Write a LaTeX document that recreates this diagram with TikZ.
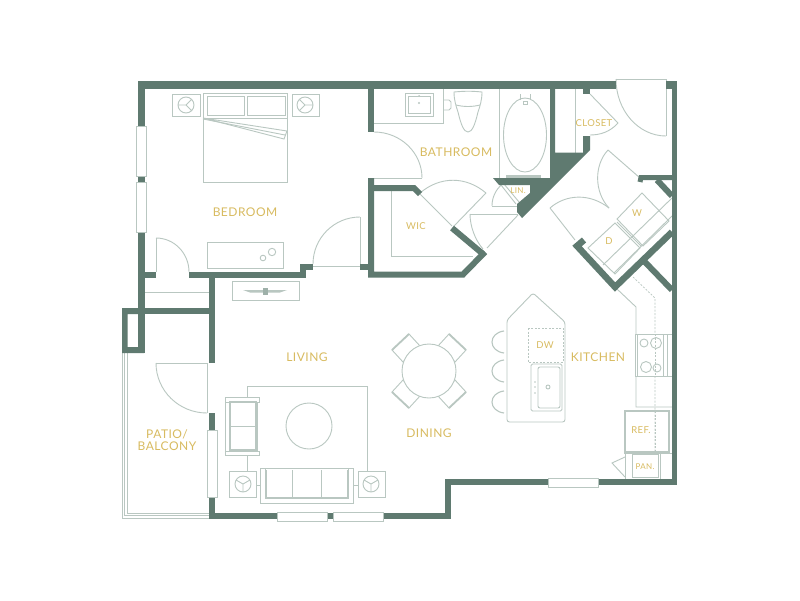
\documentclass[tikz,border=0pt]{standalone}
\usepackage{fontspec}
\setmainfont{Lato}
\newfontfamily\labfont[LetterSpace=4]{Lato}
\usetikzlibrary{calc}
\definecolor{wallc}{HTML}{5F7A70}
\definecolor{thinc}{HTML}{B9C7C1}
\definecolor{goldc}{HTML}{D8BB60}
\tikzset{
 wall/.style={draw=wallc,line width=6pt,miter limit=10,line join=miter},
 wallfill/.style={fill=wallc,draw=none},
 thin line/.style={draw=thinc,line width=0.9pt},
 furn/.style={draw=thinc,line width=0.9pt,fill=white},
 win/.style={draw=thinc,line width=0.9pt,fill=white},
 dash line/.style={draw=thinc,line width=0.7pt,dash pattern=on 2pt off 1.5pt},
 lab/.style={text=goldc,font=\labfont\fontsize{12}{14}\selectfont,inner sep=0pt,align=center},
 labs/.style={text=goldc,font=\labfont\fontsize{9.5}{11}\selectfont,inner sep=0pt},
 labt/.style={text=goldc,font=\labfont\fontsize{8}{10}\selectfont,inner sep=0pt}
}
% quarter swing: centre, start, end
\newcommand{\swing}[6]{\draw[thin line] (#3,#4) .. controls ($(#3,#4)+0.5523*(#5,#6)-0.5523*(#1,#2)$) and ($(#5,#6)+0.5523*(#3,#4)-0.5523*(#1,#2)$) .. (#5,#6);}
\begin{document}
\begin{tikzpicture}[x=1pt,y=-1pt]
\useasboundingbox (0,0) rectangle (800,600);
\fill[white] (0,0) rectangle (800,600);

% ---- furniture & fixtures (thin)
% bedroom
\draw[furn] (172,94) rectangle (200,116);
\draw[furn] (292,94) rectangle (319,116);
\draw[thin line] (186,105) circle (8) (186,105) -- (178,105) (186,105) -- (192,99) (186,105) -- (192,111);
\draw[thin line] (305,105) circle (8) (305,105) -- (313,105) (305,105) -- (299,99) (305,105) -- (299,111);
\draw[furn] (203,93) rectangle (287,182);
\draw[thin line] (203,118) -- (287,118);
\draw[thin line] (207,96) rectangle (244,115) (247,96) rectangle (285,115);
\draw[furn] (203,118) -- (287,131) -- (284,139) -- cycle;
\draw[thin line] (203,119) -- (285,135);
\draw[furn] (207,242) rectangle (283,268);
\draw[thin line] (272,252) circle (3.7) (263,258) circle (2.8);
% closet below bedroom
\draw[thin line] (144,292) -- (209,292);
% bedroom doors
\draw[thin line] (156,238) -- (156,272);
\swing{156}{272}{156}{238}{189}{272}
\draw[thin line] (360,217) -- (360,266) -- (313,266);
\swing{360}{264}{360}{217}{313}{264}

% bathroom
\draw[thin line] (374,123) -- (443,123) -- (443,89);
\draw[thin line] (405,93) rectangle (433,116) (408,96) rectangle (430,113);
\fill[thinc] (419,96) circle (1) (419,103) circle (1.2);
\draw[thin line] (443,100) -- (449,100) -- (451,102) -- (451,108) -- (449,110) -- (443,110);
\draw[furn] (454,92) .. controls (465,91) and (472,91) .. (482,92)
  .. controls (482,100) and (480,106) .. (478,112) .. controls (475,125) and (472,132) .. (468,132)
  .. controls (464,132) and (461,125) .. (458,112) .. controls (456,106) and (454,100) .. (454,92) -- cycle;
\draw[thin line] (456,105) .. controls (464,107) and (472,107) .. (480,105);
\draw[thin line] (499,89) -- (499,178);
\draw[thin line] (525,135) ellipse (21.5 and 37);
\draw[thin line] (520,94) -- (520,100) (530,94) -- (530,100) (523,101) rectangle (527,104);
\fill[thinc] (506,175) rectangle (541,177.5);
\draw[thin line] (575,89) -- (575,153);
% bath door
\draw[thin line] (374,178) -- (422,178);
\swing{374}{178}{374}{132}{422}{178}
% closet door
\draw[thin line] (590,94) -- (618,123);
\draw[thin line] (618,123) .. controls (610,132) and (600,135) .. (590,135);
% entry door
\draw[thin line] (616,79) -- (666,79) -- (666,136);
\swing{666}{79}{616}{79}{666}{136}
% WIC
\draw[thin line] (391,191) -- (391,256) -- (473,256);
\draw[thin line] (419,193) -- (452,226) (486,193) -- (454,226);
\draw[thin line] (420,193) .. controls (440,176) and (466,176) .. (486,193);
\draw[thin line] (470,214) -- (518,214);
\draw[thin line] (518,215) -- (487,248);
\draw[thin line] (470,214) .. controls (470,226) and (475,240) .. (483,249);
% linen
\draw[thin line] (492,206) -- (517,206);
\draw[thin line] (492,206) .. controls (492,197) and (496,190) .. (501,185);
\draw[thin line] (501,185) -- (516,204) (504,184) -- (519,202);

% laundry
\draw[thin line] (640,178) -- (608,150);
\draw[thin line] (608,150) .. controls (594,165) and (594,192) .. (609,208);
\draw[thin line] (609,208) .. controls (590,193) and (566,194) .. (550,208);
\draw[thin line] (550,208) -- (575,240);
\draw[thin line] (642,193) -- (669,221) -- (643,246) -- (617,219) -- cycle;
\draw[thin line] (615,223) -- (640,248) -- (615,274) -- (588,248) -- cycle;
\draw[thin line] (672,198) -- (603,265);
\draw[thin line] (672,216) -- (614,273);
\draw[thin line] (617,222) -- (641,246);

% kitchen
\draw[thin line] (617,289) -- (636,307) -- (636,407) -- (672,407);
\draw[dash line] (633,277) -- (655,298) -- (655,453);
\draw[furn] (635,334) rectangle (672,376);
\draw[thin line] (637,334) -- (637,376) (663,334) -- (663,376) (667,334) -- (667,376);
\draw[thin line] (644,343) circle (4) (656,343) circle (5.5) (646,367) circle (5.5) (657,368) circle (4);
\draw[dash line] (655,334) -- (655,376);
\draw[thin line] (624,410) rectangle (669,452);
\draw[thin line] (625,411) rectangle (668,451);
\draw[dash line] (655,411) -- (655,453);
\draw[thin line] (624,453) -- (672,453);
\draw[thin line] (625,453) -- (625,479) (632,454) rectangle (658,477) (660,454) -- (660,479);
\draw[thin line] (625,457) -- (612,463) -- (625,477);
% island
\draw[thin line,rounded corners=2.5pt] (507,320) -- (533,293) -- (565,322) -- (565,422) -- (507,422) -- cycle;
\draw[dash line] (528,328) rectangle (563,362);
\draw[thin line,rounded corners=1.5pt] (531,364) rectangle (562,411);
\draw[thin line,rounded corners=2pt] (538,367) rectangle (560,408);
\draw[thin line] (548,387) circle (2);
\fill[thinc] (535,382) circle (.9) (535,387) circle (.9) (535,393) circle (.9);
\draw[thin line,line width=1.1pt] (504,331) .. controls (488,333) and (488,351) .. (504,353);
\draw[thin line,line width=1.1pt] (504,360) .. controls (488,362) and (488,380) .. (504,382);
\draw[thin line,line width=1.1pt] (504,391) .. controls (488,393) and (488,411) .. (504,413);
% dining
\draw[thin line,fill=white] (392,350) -- (409,334) -- (420,346) -- (403,362) -- cycle;
\draw[thin line,fill=white] (466,350) -- (449,334) -- (438,346) -- (455,362) -- cycle;
\draw[thin line,fill=white] (392,392) -- (409,408) -- (420,396) -- (403,380) -- cycle;
\draw[thin line,fill=white] (466,392) -- (449,408) -- (438,396) -- (455,380) -- cycle;
\draw[thinc,line width=1.8pt] (392,350) -- (409,334) (466,350) -- (449,334) (392,392) -- (409,408) (466,392) -- (449,408);
\draw[thin line,fill=white] (429,371) circle (27);
% tv
\draw[furn] (232,281) rectangle (299,300);
\fill[thinc] (243,290) -- (287,290) -- (280,292.5) -- (250,292.5) -- cycle;
\fill[thinc!70!wallc] (262.5,287.5) rectangle (267.5,295);
% living
\draw[thin line] (247,397) -- (247,386) -- (367,386) -- (367,471);
\draw[thin line] (247,455) -- (247,471);
\draw[thin line] (309,426) circle (23);
\draw[furn] (225,397) rectangle (257,455);
\draw[furn] (225,397) rectangle (259,402);
\draw[furn] (225,451) rectangle (259,455);
\draw[thin line,line width=1.2pt] (230,402) rectangle (256,450);
\draw[thin line] (230,426) -- (256,426);
\draw[furn] (229,471) rectangle (256,497);
\draw[furn] (358,471) rectangle (385,497);
\draw[thin line] (243,484) circle (8) (243,484) -- (243,492) (243,484) -- (236,480) (243,484) -- (250,480);
\draw[thin line] (371,484) circle (8) (371,484) -- (371,492) (371,484) -- (364,480) (371,484) -- (378,480);
\draw[thin line] (256,485) -- (260,485) (353,485) -- (358,485);
\draw[furn] (260,468) rectangle (353,503);
\draw[thin line] (265,468) -- (265,498) -- (348,498) -- (348,468);
\draw[thin line] (266,470) -- (266,497) -- (347,497) -- (347,470);
\draw[thin line] (292,470) -- (292,497) (321,470) -- (321,497);

% patio rail
\draw[thin line] (122,353) -- (122,518) -- (209,518);
\draw[thin line] (124.5,353) -- (124.5,515.5) -- (209,515.5);
\draw[thin line] (127,353) -- (127,513) -- (209,513);
% patio door
\draw[thin line] (207,363) -- (207,413);
\draw[thin line] (156,363) -- (207,363);
\swing{207}{363}{156}{363}{207}{413}

% ---- walls
\draw[wall,line width=8pt] (138,85) -- (616,85);
\draw[wall,line width=8pt] (666,85) -- (677,85);
\draw[wall,line width=5.5pt] (674.5,81) -- (674.5,485);
\draw[wall,line width=6.5pt] (141.5,81) -- (141.5,353);
\draw[wall] (138,275) -- (156,275);
\draw[wall] (189,275) -- (303,275) -- (303,266.5) -- (313,266.5);
\draw[wall] (360,266.5) -- (371,266.5);
\draw[wall] (371,89) -- (371,132);
\draw[wall] (371,178) -- (371,274.5) -- (463,274.5) -- (485,252);
\draw[wall] (371,188) -- (414,188) -- (420,194);
\draw[wall] (452,228) -- (483,254);
\draw[wall] (212,272) -- (212,363);
\draw[wall] (212,413) -- (212,430);
\draw[wall] (212,497) -- (212,515.5) -- (448,515.5) -- (448,482) -- (677,482);
\fill[wallc] (122,308) rectangle (215,314);
\fill[wallc,even odd rule] (122,308) rectangle (144,353) (127.5,314) rectangle (138,347);
% wedge
\fill[wallfill] (550,89) -- (555,89) -- (555,152.7) -- (583,152.7) -- (583,136) -- (590,136) -- (590,150)
  -- (522,218) -- (517,212) -- (517,204) -- (530,193) -- (530,185) -- (499,185) -- (493,178) -- (550,178) -- cycle;
\fill[wallc] (583,89) rectangle (590,94);
% laundry walls
\draw[wall,line width=5pt] (640,182) -- (641,177.5) -- (672,177.5);
\draw[wall,line width=6pt] (657,180) -- (672,196);
\draw[wall,line width=6.5pt] (584,240) -- (577,246) -- (615,287) -- (672,232);
\draw[wall,line width=6pt] (643,260) -- (672,290);

% windows
\draw[win] (136,126) rectangle (146,176);
\draw[win] (136,182) rectangle (146,232);
\draw[win] (207,430) rectangle (217,497);
\draw[win] (277,512) rectangle (327,521);
\draw[win] (333,512) rectangle (383,521);
\draw[win] (548,478) rectangle (598,487);

% ---- labels
\node[lab] (bed) at (245,212) {BEDROOM};
\node[lab] (bath) at (456,152) {BATHROOM};
\node[labs] (closet) at (594,123) {CLOSET};
\node[labs] (wic) at (416,226) {WIC};
\node[labt] (lin) at (518,191) {LIN.};
\node[labs] (w) at (637,213) {W};
\node[labs] (d) at (609,241) {D};
\node[lab] (living) at (307,357) {LIVING};
\node[lab] (patio) at (167,440.5) {PATIO/\\[-2pt]BALCONY};
\node[lab] (dining) at (429,433) {DINING};
\node[lab] (kitchen) at (598,357) {KITCHEN};
\node[labs] (dw) at (545,345) {DW};
\node[labs] (ref) at (641,430) {REF.};
\node[labt] (pan) at (645,467) {PAN.};
\end{tikzpicture}
\end{document}
